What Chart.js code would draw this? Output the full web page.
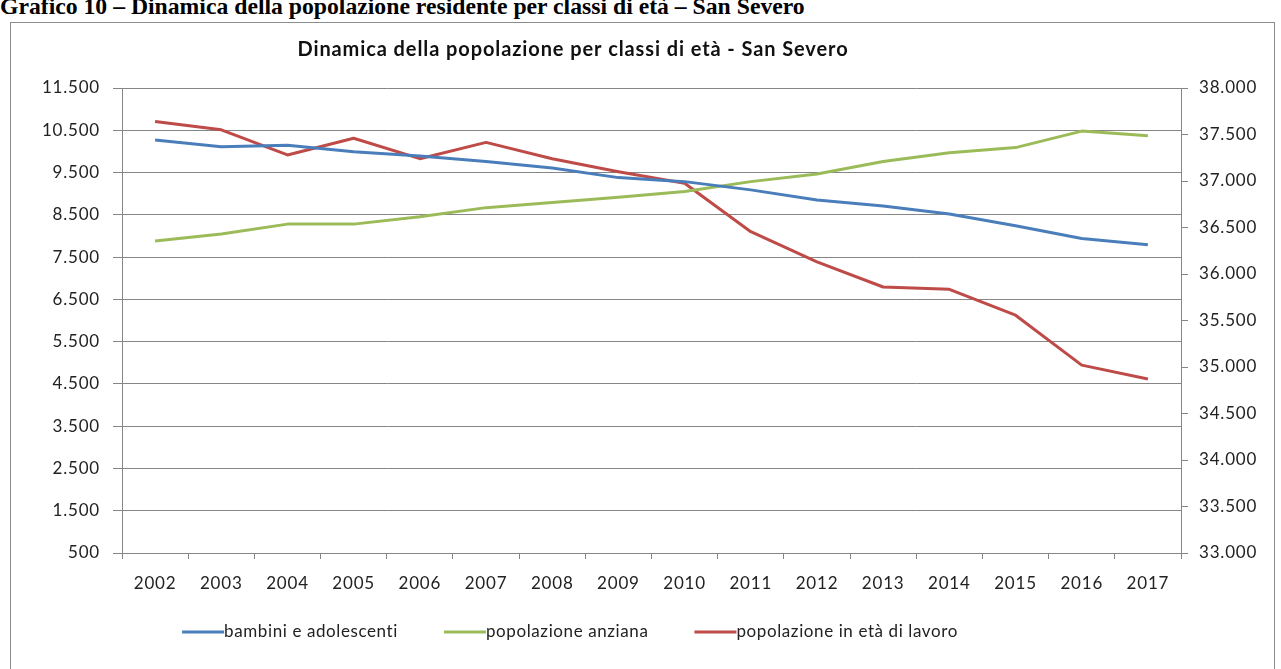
<!DOCTYPE html>
<html lang="it">
<head>
<meta charset="utf-8">
<title>Dinamica della popolazione per classi di età - San Severo</title>
<script src="https://cdn.jsdelivr.net/npm/chart.js@4/dist/chart.umd.min.js"></script>
<style>
  html, body { margin: 0; padding: 0; background: #ffffff; }
  body { width: 1281px; height: 669px; position: relative; overflow: hidden; }
  #heading {
    position: absolute; left: 0; top: -6px; white-space: nowrap;
    font-family: "Liberation Serif", "DejaVu Serif", serif; font-weight: bold;
    font-size: 23.7px; line-height: 24px; color: #000;
  }
  #frame {
    position: absolute; left: 10px; top: 22px; width: 1265px; height: 700px;
    border: 1px solid #8c8c8c; box-sizing: border-box;
  }
  #wrap { position: absolute; left: 0; top: 0; width: 1281px; height: 669px; }
</style>
</head>
<body>
<div id="heading">Grafico 10 – Dinamica della popolazione residente per classi di età – San Severo</div>
<div id="frame"></div>
<div id="wrap"><canvas id="chart" width="1281" height="669"></canvas></div>
<script>
// Anni di riferimento
const years = ['2002','2003','2004','2005','2006','2007','2008','2009','2010','2011','2012','2013','2014','2015','2016','2017'];

// Popolazione 0-14 anni (asse sinistro)
const bambini = [10270, 10110, 10145, 9990, 9890, 9760, 9610, 9380, 9285, 9090, 8850, 8710, 8520, 8240, 7940, 7790];

// Popolazione 65 anni e oltre (asse sinistro)
const anziani = [7880, 8045, 8280, 8280, 8455, 8670, 8790, 8915, 9050, 9285, 9465, 9760, 9970, 10090, 10480, 10370];

// Popolazione 15-64 anni (asse destro)
const lavoro = [37640, 37550, 37280, 37460, 37240, 37415, 37240, 37100, 36975, 36455, 36130, 35860, 35835, 35557, 35020, 34870];

const seriesLabels = ['bambini e adolescenti', 'popolazione anziana', 'popolazione in età di lavoro'];
const chartTitle = 'Dinamica della popolazione per classi di età - San Severo';

const FONT = 'Lato, "Open Sans", sans-serif';
const GRID = '#868686';
const TEXT = '#222222';

function fmt(v) {
  return String(v).replace(/\B(?=(\d{3})+(?!\d))/g, '.');
}

// Spaziatura del testo un po' più larga, come nel foglio di calcolo
const spacing = {
  id: 'spacing',
  beforeLayout(chart) { chart.ctx.letterSpacing = '0.8px'; },
  beforeDraw(chart) { chart.ctx.letterSpacing = '0.8px'; }
};

// Titolo e legenda disegnati sul canvas
const overlay = {
  id: 'overlay',
  afterDraw(chart) {
    const ctx = chart.ctx;
    ctx.save();
    ctx.fillStyle = '#111';
    ctx.letterSpacing = '0.9px';
    ctx.font = 'bold 20px ' + FONT;
    ctx.textAlign = 'center';
    ctx.textBaseline = 'middle';
    ctx.fillText(chartTitle, 573, 50);

    // Legenda centrata sotto il grafico
    ctx.letterSpacing = '0.6px';
    ctx.font = '17px ' + FONT;
    ctx.textAlign = 'left';
    const lineLen = 42, gap = 46, y = 632, centre = 570;
    const items = chart.data.datasets.map(ds => ({
      label: ds.label, color: ds.borderColor,
      w: lineLen + ctx.measureText(ds.label).width
    }));
    const total = items.reduce((s, it) => s + it.w, 0) + gap * (items.length - 1);
    let x = centre - total / 2;
    items.forEach(it => {
      ctx.strokeStyle = it.color;
      ctx.lineWidth = 3;
      ctx.beginPath();
      ctx.moveTo(x, y);
      ctx.lineTo(x + lineLen, y);
      ctx.stroke();
      ctx.fillStyle = TEXT;
      ctx.fillText(it.label, x + lineLen, y);
      x += it.w + gap;
    });
    ctx.restore();
  }
};

new Chart(document.getElementById('chart'), {
  type: 'line',
  data: {
    labels: years,
    datasets: [
      { label: seriesLabels[0], data: bambini, yAxisID: 'y', borderColor: '#4a7ebb', backgroundColor: '#4a7ebb' },
      { label: seriesLabels[1], data: anziani, yAxisID: 'y', borderColor: '#9bbb59', backgroundColor: '#9bbb59' },
      { label: seriesLabels[2], data: lavoro, yAxisID: 'y1', borderColor: '#be4b48', backgroundColor: '#be4b48' }
    ]
  },
  options: {
    responsive: false,
    animation: false,
    devicePixelRatio: 1,
    layout: { padding: { top: 88, left: 0, right: 0, bottom: 0 } },
    elements: {
      line: { borderWidth: 3, tension: 0, borderCapStyle: 'butt', borderJoinStyle: 'round' },
      point: { radius: 0, hoverRadius: 0 }
    },
    plugins: {
      legend: { display: false },
      title: { display: false },
      tooltip: { enabled: false }
    },
    scales: {
      x: {
        type: 'category',
        offset: true,
        grid: { offset: true, drawOnChartArea: false, drawTicks: true, tickLength: 6, color: GRID },
        border: { display: true, color: GRID, width: 1 },
        ticks: { color: TEXT, font: { family: FONT, size: 17 }, padding: 14, maxRotation: 0, autoSkip: false },
        afterFit(scale) { scale.height = 116; }
      },
      y: {
        position: 'left',
        min: 500, max: 11500,
        ticks: { stepSize: 1000, color: TEXT, font: { family: FONT, size: 17 }, padding: 13, callback: v => fmt(v) },
        grid: { color: GRID, tickLength: 9, drawTicks: true },
        border: { display: true, color: GRID, width: 1 },
        afterFit(scale) { scale.width = 122; }
      },
      y1: {
        position: 'right',
        min: 33000, max: 38000,
        ticks: { stepSize: 500, color: TEXT, font: { family: FONT, size: 17 }, padding: 11, callback: v => fmt(v) },
        grid: { drawOnChartArea: false, color: GRID, tickLength: 7, drawTicks: true },
        border: { display: true, color: GRID, width: 1 },
        afterFit(scale) { scale.width = 100; }
      }
    }
  },
  plugins: [spacing, overlay]
});
</script>
</body>
</html>
